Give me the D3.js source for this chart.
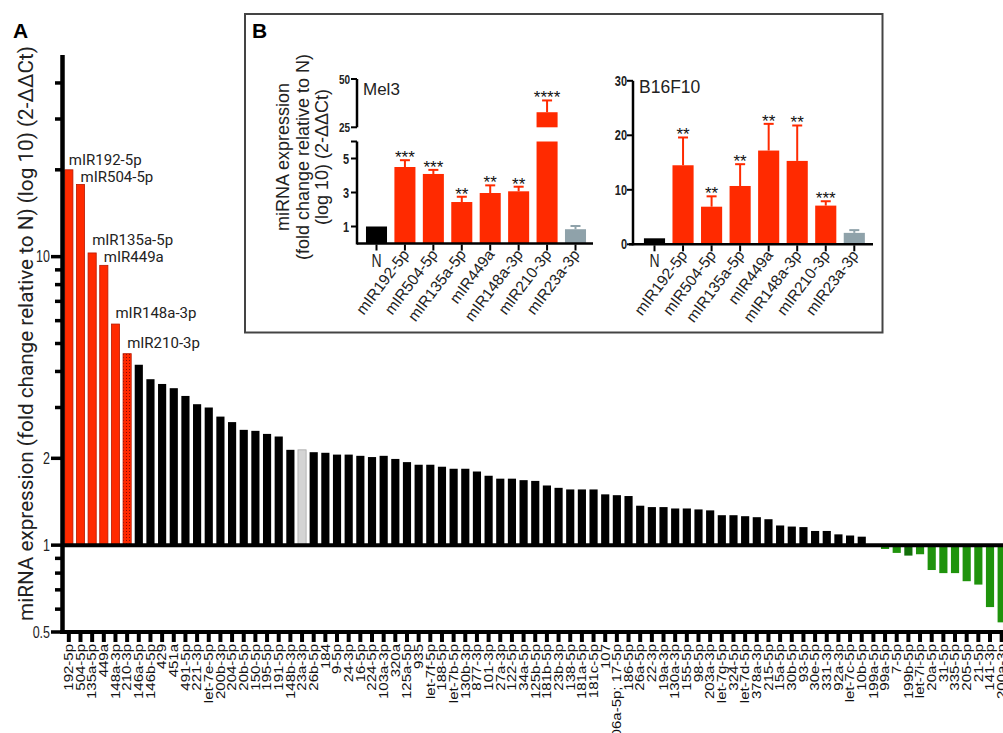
<!DOCTYPE html>
<html>
<head>
<meta charset="utf-8">
<script src="https://cdn.jsdelivr.net/npm/d3@7"></script>
<style>
  body { margin: 0; background: #fff; }
  svg { display: block; }
</style>
</head>
<body>
<svg id="fig" width="1003" height="733"></svg>
<script>
// ---- data, panel A (fold change vs N, log scale) ----
var aLabels = ["192-5p","504-5p","135a-5p","449a","148a-3p","210-3p","146a-5p","146b-5p","429","451a",
  "491-5p","221-3p","let-7e-5p","200b-3p","204-5p","20b-5p","150-5p","195-5p","191-5p","148b-3p",
  "23a-3p","26b-5p","184","9-5p","24-3p","16-5p","224-5p","103a-3p","320a","125a-5p",
  "935","let-7f-5p","188-5p","let-7b-5p","130b-3p","877-3p","101-3p","27a-3p","122-5p","34a-5p",
  "125b-5p","181b-5p","23b-3p","138-5p","181a-5p","181c-5p","107","106a-5p; 17-5p","186-5p","26a-5p",
  "22-3p","19a-3p","130a-3p","155-5p","98-5p","203a-3p","let-7g-5p","324-5p","let-7d-5p","378a-3p",
  "215-5p","15a-5p","30b-5p","93-5p","30e-5p","331-3p","92a-3p","let-7c-5p","10b-5p","199a-5p",
  "99a-5p","7-5p","199b-5p","let-7i-5p","20a-5p","31-5p","335-5p","205-5p","21-5p","141-3p","200a-3p"];
var aValues = [20.0,17.8,10.3,9.33,5.84,4.61,4.22,3.76,3.62,3.50,
  3.29,3.08,3.00,2.79,2.67,2.51,2.49,2.43,2.38,2.14,
  2.14,2.10,2.09,2.06,2.06,2.04,2.02,2.04,1.99,1.94,
  1.90,1.90,1.87,1.84,1.84,1.80,1.74,1.70,1.70,1.68,
  1.67,1.61,1.58,1.56,1.56,1.56,1.50,1.49,1.48,1.37,
  1.355,1.355,1.34,1.34,1.33,1.32,1.27,1.27,1.26,1.25,
  1.23,1.17,1.16,1.155,1.12,1.12,1.09,1.08,1.07,1.00,
  0.97,0.94,0.92,0.93,0.82,0.80,0.80,0.75,0.73,0.61,0.54];
var aAnnotations = ["mIR192-5p","mIR504-5p","mIR135a-5p","mIR449a","mIR148a-3p","mIR210-3p"];
var aTickLabels = [0.5, 1, 2, 10];

// ---- data, panel B ----
var bCats = ["N","mIR192-5p","mIR504-5p","mIR135a-5p","mIR449a","mIR148a-3p","mIR210-3p","mIR23a-3p"];
var mel3Mean = [1.0, 4.5, 4.09, 2.44, 2.97, 3.07, 32.8, 0.84];
var mel3Err  = [0, 0.4, 0.24, 0.31, 0.45, 0.27, 6.1, 0.19];
var mel3Sig  = ["", "***", "***", "**", "**", "**", "****", ""];
var mel3LowTicks = [1, 3, 5];
var mel3UpTicks = [25, 50];
var b16Mean = [1.1, 14.5, 6.9, 10.7, 17.2, 15.3, 7.1, 2.1];
var b16Err  = [0, 5.1, 1.9, 4.0, 4.9, 6.5, 0.8, 0.5];
var b16Sig  = ["", "**", "**", "**", "**", "**", "***", ""];
var b16Ticks = [0, 10, 20, 30];

var RED = "#ff2a00", GREEN = "#1f930c", DKGREEN = "#13700a", GREYBLUE = "#8fa2aa";
var SANS = "'Liberation Sans', Arial, sans-serif", ROBO = "Roboto, 'Liberation Sans', sans-serif";
var KS = 1.3; // vertical stretch seen in the original figure's small text

var svg = d3.select("#fig");
var defs = svg.append("defs");
var pat = defs.append("pattern").attr("id", "dots").attr("patternUnits", "userSpaceOnUse")
  .attr("width", 3).attr("height", 3);
pat.append("rect").attr("width", 3).attr("height", 3).attr("fill", RED);
pat.append("rect").attr("width", 1).attr("height", 1).attr("fill", "#8a0a00");

// ================= panel A =================
var xA = d3.scaleBand().domain(d3.range(aLabels.length)).range([63, 1007.5])
  .paddingInner(0.3).paddingOuter(0.15);
var yA = d3.scaleLog().domain([0.5, 50]).range([632, 55]);
var bwA = xA.bandwidth();

function barFill(i) {
  if (i == 5) return "url(#dots)";
  if (i < 6) return RED;
  if (aLabels[i] == "23a-3p") return "#d4d4d4";
  if (aValues[i] < 1) return aLabels[i] == "199b-5p" ? DKGREEN : GREEN;
  return "#000";
}
function barStroke(i) {
  if (i < 6) return "#b81a00";
  if (aLabels[i] == "23a-3p") return "#a8a8a8";
  return "none";
}

var gA = svg.append("g");
gA.selectAll("rect.bar").data(aValues).enter().append("rect")
  .attr("class", "bar")
  .attr("x", function (d, i) { return xA(i); })
  .attr("width", bwA)
  .attr("y", function (d) { return Math.min(yA(d), yA(1)); })
  .attr("height", function (d) { return Math.abs(yA(d) - yA(1)); })
  .attr("fill", function (d, i) { return barFill(i); })
  .attr("stroke", function (d, i) { return barStroke(i); })
  .attr("stroke-width", 0.8);

// annotations over the six red bars (small nudges as in the original)
var annNudge = [-5, -2, -8, -3, -6, -6];
gA.selectAll("text.ann").data(aAnnotations).enter().append("text")
  .attr("class", "ann")
  .attr("x", function (d, i) { return xA(i) + bwA / 2; })
  .attr("y", function (d, i) { return yA(aValues[i]) + annNudge[i]; })
  .attr("font-family", ROBO).attr("font-size", 15).attr("fill", "#222")
  .text(function (d) { return d; });

// axis lines
gA.append("line").attr("x1", 62).attr("x2", 1003).attr("y1", yA(1)).attr("y2", yA(1))
  .attr("stroke", "#000").attr("stroke-width", 4);
gA.append("line").attr("x1", 60).attr("x2", 1003).attr("y1", yA(0.5)).attr("y2", yA(0.5))
  .attr("stroke", "#000").attr("stroke-width", 4);
gA.append("line").attr("x1", 62.5).attr("x2", 62.5).attr("y1", yA(50)).attr("y2", yA(0.5) + 2)
  .attr("stroke", "#000").attr("stroke-width", 4.5);

var yTicks = yA.ticks().filter(function (v) { return v < 50; });
gA.selectAll("line.ytick").data(yTicks).enter().append("line")
  .attr("class", "ytick")
  .attr("x1", function (d) { return aTickLabels.indexOf(d) >= 0 ? 51 : 55; })
  .attr("x2", 62)
  .attr("y1", function (d) { return yA(d); }).attr("y2", function (d) { return yA(d); })
  .attr("stroke", "#000").attr("stroke-width", 3.5);
gA.selectAll("text.ylab").data(aTickLabels).enter().append("text")
  .attr("class", "ylab")
  .attr("transform", function (d) { return "translate(50," + yA(d) + ") scale(1," + KS + ")"; })
  .attr("dy", "0.35em").attr("text-anchor", "end")
  .attr("font-family", SANS).attr("font-size", 12.5).attr("fill", "#222")
  .text(function (d) { return d; });

// x ticks + rotated labels
gA.selectAll("line.xtick").data(aLabels).enter().append("line")
  .attr("class", "xtick")
  .attr("x1", function (d, i) { return xA(i) + bwA / 2; })
  .attr("x2", function (d, i) { return xA(i) + bwA / 2; })
  .attr("y1", 633).attr("y2", 642)
  .attr("stroke", "#000").attr("stroke-width", 4);
gA.selectAll("text.xlab").data(aLabels).enter().append("text")
  .attr("class", "xlab")
  .attr("transform", function (d, i) {
    return "translate(" + (xA(i) + bwA / 2 + 4.3) + ",644) scale(1,1.25) rotate(-90)";
  })
  .attr("text-anchor", "end")
  .attr("font-family", SANS).attr("font-size", 12).attr("fill", "#111")
  .text(function (d) { return d; });

// axis title
gA.append("text")
  .attr("transform", "translate(33,621) rotate(-90)")
  .attr("font-family", ROBO).attr("font-size", 21).attr("fill", "#222")
  .attr("textLength", 575).attr("lengthAdjust", "spacingAndGlyphs")
  .text("miRNA expression (fold change relative to N) (log 10) (2-\u0394\u0394Ct)");

svg.append("text").attr("x", 13).attr("y", 38)
  .attr("font-family", SANS).attr("font-weight", "bold").attr("font-size", 21).text("A");

// ================= panel B =================
var gB = svg.append("g");
gB.append("rect").attr("x", 245).attr("y", 14).attr("width", 637.5).attr("height", 318.5)
  .attr("fill", "#fff").attr("stroke", "#444").attr("stroke-width", 2);
gB.append("text").attr("x", 252).attr("y", 38)
  .attr("font-family", SANS).attr("font-weight", "bold").attr("font-size", 21).text("B");

var bTitle = ["miRNA expression", "(fold change relative to N)", "(log 10) (2-\u0394\u0394Ct)"];
gB.selectAll("text.btitle").data(bTitle).enter().append("text")
  .attr("class", "btitle")
  .attr("transform", function (d, i) { return "translate(" + (289 + i * 19.5) + ",157) rotate(-90)"; })
  .attr("text-anchor", "middle")
  .attr("font-family", SANS).attr("font-size", 18).attr("fill", "#222")
  .text(function (d) { return d; });

function barColorB(i) {
  if (i == 0) return "#000";
  if (i == bCats.length - 1) return GREYBLUE;
  return RED;
}

function catLabels(g, x, y0) {
  g.selectAll("line.bxt").data(bCats).enter().append("line")
    .attr("x1", function (d) { return x(d); }).attr("x2", function (d) { return x(d); })
    .attr("y1", y0).attr("y2", y0 + 6)
    .attr("stroke", "#000").attr("stroke-width", 2);
  g.selectAll("text.bxl").data(bCats).enter().append("text")
    .attr("transform", function (d, i) {
      if (i == 0) return "translate(" + x(d) + "," + (y0 + 22) + ") scale(1," + KS + ")";
      return "translate(" + (x(d) + 5) + "," + (y0 + 10) + ") rotate(-53)";
    })
    .attr("text-anchor", function (d, i) { return i == 0 ? "middle" : "end"; })
    .attr("font-family", SANS).attr("font-size", function (d, i) { return i == 0 ? 14 : 15.5; })
    .attr("fill", "#222")
    .text(function (d) { return d; });
}

function errBar(g, cx, yTop, yCap, col) {
  g.append("line").attr("x1", cx).attr("x2", cx).attr("y1", yTop).attr("y2", yCap)
    .attr("stroke", col).attr("stroke-width", 2);
  g.append("line").attr("x1", cx - 5).attr("x2", cx + 5).attr("y1", yCap).attr("y2", yCap)
    .attr("stroke", col).attr("stroke-width", 2);
}

function star(g, cx, yCap, s) {
  g.append("text").attr("x", cx).attr("y", yCap + 3).attr("text-anchor", "middle")
    .attr("font-family", SANS).attr("font-size", 17).attr("fill", "#111").text(s);
}

function yTickLabel(g, x, y, v, size) {
  g.append("text").attr("transform", "translate(" + x + "," + y + ") scale(1," + KS + ")")
    .attr("dy", "0.35em").attr("text-anchor", "end")
    .attr("font-family", SANS).attr("font-weight", "bold").attr("font-size", size)
    .attr("fill", "#222").text(v);
}

// ---- Mel3 (broken axis) ----
var gM = gB.append("g");
var xM = d3.scalePoint().domain(bCats).range([376.5, 575.5]);
var bwM = xM.step() * 0.74;
var yLow = d3.scaleLinear().domain([0, 6]).range([243.5, 141.5]);
var yUp = d3.scaleLinear().domain([25, 50]).range([127.3, 79]);

bCats.forEach(function (c, i) {
  var m = mel3Mean[i], e = mel3Err[i], col = barColorB(i), cx = xM(c);
  var top, cap;
  if (m <= 6) {
    gM.append("rect").attr("x", cx - bwM / 2).attr("width", bwM)
      .attr("y", yLow(m)).attr("height", yLow(0) - yLow(m)).attr("fill", col);
    top = yLow(m); cap = yLow(m + e);
  } else {
    gM.append("rect").attr("x", cx - bwM / 2).attr("width", bwM)
      .attr("y", yLow(6)).attr("height", yLow(0) - yLow(6)).attr("fill", col);
    gM.append("rect").attr("x", cx - bwM / 2).attr("width", bwM)
      .attr("y", yUp(m)).attr("height", yUp(25) - yUp(m)).attr("fill", col);
    top = yUp(m); cap = yUp(m + e);
  }
  if (e > 0) errBar(gM, cx, top, cap, col);
  if (mel3Sig[i]) star(gM, cx, cap, mel3Sig[i]);
});

var axM = 357;
gM.append("line").attr("x1", axM).attr("x2", axM).attr("y1", yLow(6)).attr("y2", yLow(0) + 1)
  .attr("stroke", "#000").attr("stroke-width", 2.5);
gM.append("line").attr("x1", axM).attr("x2", axM).attr("y1", yUp(50)).attr("y2", yUp(25))
  .attr("stroke", "#000").attr("stroke-width", 2.5);
gM.append("line").attr("x1", axM).attr("x2", 593).attr("y1", yLow(0)).attr("y2", yLow(0))
  .attr("stroke", "#000").attr("stroke-width", 2.5);
[yLow(6)].concat(mel3LowTicks.map(yLow)).forEach(function (y) {
  gM.append("line").attr("x1", axM - 6).attr("x2", axM).attr("y1", y).attr("y2", y)
    .attr("stroke", "#000").attr("stroke-width", 2);
});
mel3UpTicks.forEach(function (v) {
  gM.append("line").attr("x1", axM - 6).attr("x2", axM).attr("y1", yUp(v)).attr("y2", yUp(v))
    .attr("stroke", "#000").attr("stroke-width", 2);
  yTickLabel(gM, axM - 7, yUp(v), v, 10);
});
mel3LowTicks.forEach(function (v) { yTickLabel(gM, axM - 8, yLow(v), v, 11); });
catLabels(gM, xM, yLow(0) + 1);
gM.append("text").attr("x", 363).attr("y", 95)
  .attr("font-family", SANS).attr("font-size", 17).attr("fill", "#222").text("Mel3");

// ---- B16F10 ----
var gF = gB.append("g");
var xF = d3.scalePoint().domain(bCats).range([654.5, 854.3]);
var bwF = xF.step() * 0.74;
var yF = d3.scaleLinear().domain([0, 30]).range([244.3, 80.8]);

bCats.forEach(function (c, i) {
  var m = b16Mean[i], e = b16Err[i], col = barColorB(i), cx = xF(c);
  gF.append("rect").attr("x", cx - bwF / 2).attr("width", bwF)
    .attr("y", yF(m)).attr("height", yF(0) - yF(m)).attr("fill", col);
  if (e > 0) errBar(gF, cx, yF(m), yF(m + e), col);
  if (b16Sig[i]) star(gF, cx, yF(m + e), b16Sig[i]);
});
var axF = 633;
gF.append("line").attr("x1", axF).attr("x2", axF).attr("y1", yF(30)).attr("y2", yF(0) + 1)
  .attr("stroke", "#000").attr("stroke-width", 2.5);
gF.append("line").attr("x1", axF - 4).attr("x2", 873).attr("y1", yF(0)).attr("y2", yF(0))
  .attr("stroke", "#000").attr("stroke-width", 2.5);
b16Ticks.forEach(function (v) {
  gF.append("line").attr("x1", axF - 6).attr("x2", axF).attr("y1", yF(v)).attr("y2", yF(v))
    .attr("stroke", "#000").attr("stroke-width", 2);
  yTickLabel(gF, axF - 6, yF(v), v, 11);
});
catLabels(gF, xF, yF(0) + 1);
gF.append("text").attr("x", 639).attr("y", 93)
  .attr("font-family", SANS).attr("font-size", 17.5).attr("fill", "#222").text("B16F10");
</script>
</body>
</html>
